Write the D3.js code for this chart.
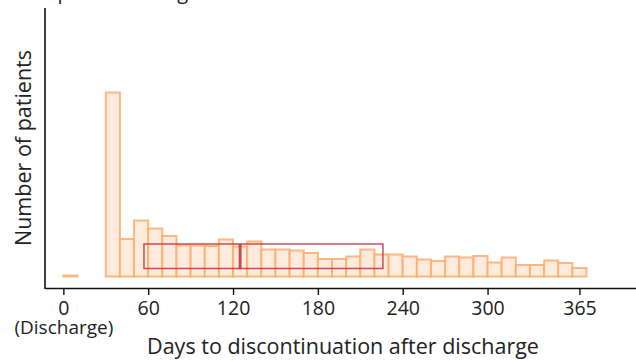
<!DOCTYPE html>
<meta charset="utf-8">
<style>
  body, html { margin: 0; padding: 0; background: #fff; }
  text { font-family: "Open Sans", "Noto Sans", sans-serif; fill: #222; }
</style>
<body>
<svg width="636" height="363"></svg>
<script src="https://cdn.jsdelivr.net/npm/d3@7"></script>
<script>
// 10-day bins, start day of each bin
var binStarts = [0, 10, 20, 30, 40, 50, 60, 70, 80, 90, 100, 110, 120, 130, 140, 150, 160, 170,
                 180, 190, 200, 210, 220, 230, 240, 250, 260, 270, 280, 290, 300, 310, 320, 330,
                 340, 350, 360];
var binWidth = 10;
var counts = [1, 0, 0, 184, 37.5, 56, 48, 40.5, 31, 31, 30.5, 37, 30, 35, 27, 27, 26, 23.5,
              17.5, 17.5, 20, 27, 22, 22, 20, 17, 15.5, 20, 19, 20.5, 14, 19, 11.5, 11.5,
              16, 13.5, 8.5];

// interquartile box of days to discontinuation
var boxStats = { q1: 57, median: 125, q3: 226 };
var boxRange = [8, 32.5];   // vertical extent of the box, in count units

var tickDays = [0, 60, 120, 180, 240, 300, 365];

var svg = d3.select("svg");

var x = d3.scaleLinear()
    .domain([-13, 405])
    .range([45, 636]);

var y = d3.scaleLinear()
    .domain([-11.5, 268.5])
    .range([288, 8]);

// heading, cut off at the top as in the picture
svg.append("text")
    .attr("x", 42)
    .attr("y", -1.5)
    .style("font-size", "20px")
    .text("Opioid discharge");

var bars = counts.map(function(c, i) { return { start: binStarts[i], n: c }; })
    .filter(function(d) { return d.n > 0; });

svg.append("g")
    .selectAll("rect")
    .data(bars)
    .enter().append("rect")
    .attr("x", function(d) { return x(d.start); })
    .attr("width", function(d) { return x(d.start + binWidth) - x(d.start); })
    .attr("y", function(d) { return y(d.n); })
    .attr("height", function(d) { return y(0) - y(d.n); })
    .attr("fill", "#feebdd")
    .attr("stroke", "#fdab6c")
    .attr("stroke-opacity", 0.85)
    .attr("stroke-width", 2);

// box
var box = svg.append("g")
    .attr("fill", "none")
    .attr("stroke", "#c0303c")
    .attr("stroke-opacity", 0.85);

box.append("rect")
    .attr("x", x(boxStats.q1))
    .attr("width", x(boxStats.q3) - x(boxStats.q1))
    .attr("y", y(boxRange[1]))
    .attr("height", y(boxRange[0]) - y(boxRange[1]))
    .attr("stroke-width", 1.5);

box.append("line")
    .attr("x1", x(boxStats.median))
    .attr("x2", x(boxStats.median))
    .attr("y1", y(boxRange[1]))
    .attr("y2", y(boxRange[0]))
    .attr("stroke-width", 3);

// axes
var xAxis = svg.append("g")
    .attr("transform", "translate(0,288)")
    .call(d3.axisBottom(x).tickValues(tickDays).tickSize(7).tickPadding(6).tickSizeOuter(0));

xAxis.select(".domain").attr("stroke-width", 1.6).attr("stroke", "#111");
xAxis.selectAll(".tick line").attr("stroke-width", 1.4).attr("stroke", "#111");
xAxis.selectAll(".tick text")
    .style("font-size", "19.5px")
    .attr("fill", "#222");

xAxis.selectAll(".tick")
    .filter(function(d) { return d === 0; })
    .append("text")
    .attr("y", 33)
    .attr("dy", "0.71em")
    .style("font-size", "19px")
    .attr("fill", "#222")
    .text("(Discharge)");

svg.append("line")
    .attr("x1", 45).attr("x2", 45)
    .attr("y1", 8).attr("y2", 289)
    .attr("stroke", "#111")
    .attr("stroke-width", 1.6);

svg.append("text")
    .attr("x", 343)
    .attr("y", 354)
    .attr("text-anchor", "middle")
    .style("font-size", "21.5px")
    .text("Days to discontinuation after discharge");

svg.append("text")
    .attr("transform", "translate(31,148) rotate(-90)")
    .attr("text-anchor", "middle")
    .style("font-size", "21.5px")
    .text("Number of patients");
</script>
</body>
